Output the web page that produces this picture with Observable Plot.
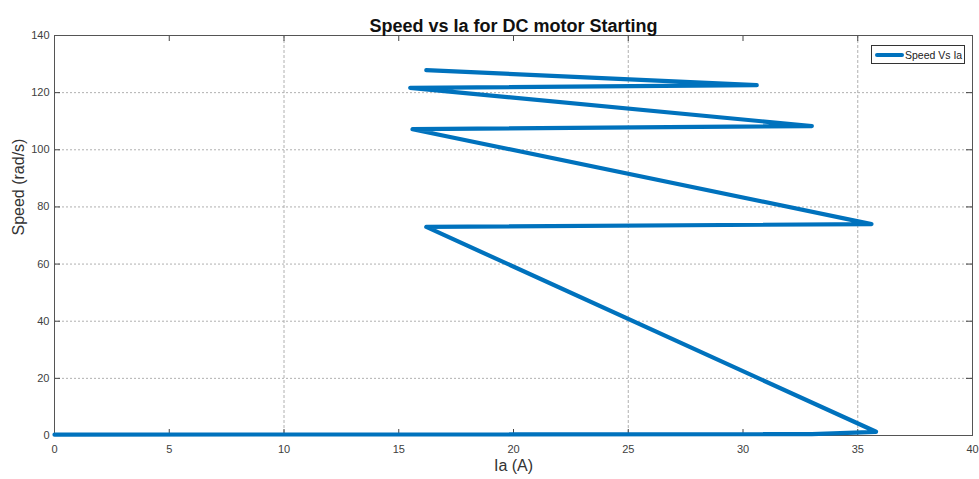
<!DOCTYPE html>
<html>
<head>
<meta charset="utf-8">
<script src="https://cdn.jsdelivr.net/npm/d3@7"></script>
<script src="https://cdn.jsdelivr.net/npm/@observablehq/plot@0.6"></script>
<style>
  html, body { margin: 0; padding: 0; background: #fff; }
  #wrap { position: relative; width: 979px; height: 479px; font-family: "Liberation Sans", Arial, sans-serif; }
  #legend { position: absolute; left: 871px; top: 45px; width: 94px; height: 19px; border: 1px solid #333; background: #fff; box-sizing: border-box; display: flex; align-items: center; font-size: 10.5px; color: #222; white-space: nowrap; }
  #legend .sw { width: 29px; height: 4px; background: #0072BD; margin-left: 3px; margin-right: 1px; border-radius: 2px; flex: none; }
</style>
</head>
<body>
<div id="wrap"></div>
<script>
// Data
const ia    = [0,   33.0, 35.8, 16.2, 35.6, 15.6,  33.0,  15.5,  30.6,  16.2];
const speed = [0.3, 0.5,  1.3,  73.0, 74.0, 107.2, 108.3, 121.7, 122.6, 127.9];
const xTicks = [0, 5, 10, 15, 20, 25, 30, 35, 40];
const yTicks = [0, 20, 40, 60, 80, 100, 120, 140];
const xGrid = [10, 25, 35];
const yGrid = [20, 40, 60, 80, 100, 120];
const title = "Speed vs Ia for DC motor Starting";
const seriesName = "Speed Vs Ia";

const data = ia.map((x, i) => ({ia: x, speed: speed[i]}));

const W = 979, H = 479;
const mL = 54, mR = 7, mT = 35, mB = 44;
const plotH = H - mT - mB, plotW = W - mL - mR;

const chart = Plot.plot({
  width: W,
  height: H,
  marginLeft: mL,
  marginRight: mR,
  marginTop: mT,
  marginBottom: mB,
  style: { fontFamily: "Liberation Sans, Arial, sans-serif", background: "#fff", overflow: "visible" },
  x: { domain: [0, 40] },
  y: { domain: [0, 140] },
  marks: [
    // grid
    Plot.ruleY(yGrid, { y: d => d, stroke: "#b0b0b0", strokeWidth: 1, strokeDasharray: "2,2" }),
    Plot.ruleX(xGrid, { x: d => d, stroke: "#b0b0b0", strokeWidth: 1, strokeDasharray: "3,2" }),
    // inward ticks, all four sides
    Plot.tickX(xTicks, { x: d => d, stroke: "#444", insetTop: plotH - 6 }),
    Plot.tickX(xTicks, { x: d => d, stroke: "#444", insetBottom: plotH - 6 }),
    Plot.tickY(yTicks, { y: d => d, stroke: "#444", insetRight: plotW - 6 }),
    Plot.tickY(yTicks, { y: d => d, stroke: "#444", insetLeft: plotW - 6 }),
    Plot.frame({ stroke: "#555", strokeWidth: 1 }),
    // axes labels
    Plot.axisX({ ticks: xTicks, tickSize: 0, tickPadding: 10, fontSize: 11, color: "#404040", label: null }),
    Plot.axisY({ ticks: yTicks, tickSize: 0, tickPadding: 5, fontSize: 11, color: "#404040", label: null }),
    // the curve
    Plot.line(data, { x: "ia", y: "speed", stroke: "#0072BD", strokeWidth: 4.2, strokeLinejoin: "round", strokeLinecap: "round", curve: "linear" }),
    // title and axis titles
    Plot.text([title], { frameAnchor: "top", dy: -16, text: d => d, fontSize: 18, fontWeight: "bold", fill: "#111" }),
    Plot.text(["Ia (A)"], { frameAnchor: "bottom", dy: 35, text: d => d, fontSize: 16, fill: "#333" }),
    Plot.text(["Speed (rad/s)"], { frameAnchor: "left", dx: -36, rotate: -90, text: d => d, fontSize: 16, fill: "#333" })
  ]
});

const wrap = document.getElementById("wrap");
wrap.appendChild(chart);
const legend = document.createElement("div");
legend.id = "legend";
legend.innerHTML = '<span class="sw"></span><span></span>';
legend.lastChild.textContent = seriesName;
wrap.appendChild(legend);
</script>
</body>
</html>
